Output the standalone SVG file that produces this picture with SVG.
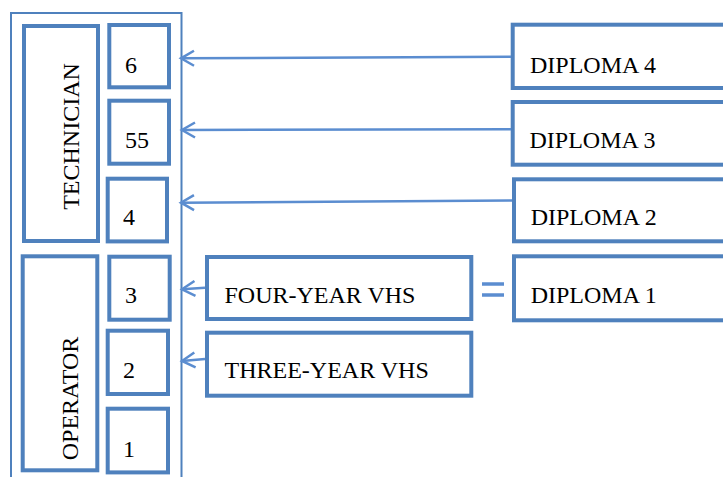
<svg xmlns="http://www.w3.org/2000/svg" width="723" height="477" viewBox="0 0 723 477">
<defs>
<style>
.box{fill:#fff;stroke:#4F81BD;stroke-width:4}
.frame{fill:none;stroke:#4F81BD;stroke-width:2}
.t{font-family:"Liberation Serif","Times New Roman",serif;font-size:24px;fill:#000}
.conn{fill:none;stroke:#5B8DD0;stroke-width:2.5}
.eq{stroke:#5B8DD0;stroke-width:3.5}
</style>
<marker id="ah" markerUnits="userSpaceOnUse" markerWidth="20" markerHeight="20" viewBox="-14 -10 20 20" refX="0" refY="0" orient="auto">
<path d="M-13,-7.5 L0,0 L-13,7.5" fill="none" stroke="#5B8DD0" stroke-width="2.5"/>
</marker>
</defs>
<rect width="723" height="477" fill="#fff"/>
<g id="frame"><path class="frame" d="M11,477 V13 H181.5 V477"/></g>
<g id="technician"><rect class="box" x="24" y="26" width="74" height="215"/><text class="t" transform="translate(79,136.5) rotate(-90)" text-anchor="middle">TECHNICIAN</text></g>
<g id="operator"><rect class="box" x="22.7" y="256.3" width="74.6" height="214"/><text class="t" transform="translate(78,398.5) rotate(-90)" text-anchor="middle">OPERATOR</text></g>
<g id="level6"><rect class="box" x="109.3" y="25" width="59.7" height="62.3"/><text class="t" x="125" y="73">6</text></g>
<g id="level55"><rect class="box" x="109.3" y="100.7" width="59.7" height="63"/><text class="t" x="125" y="148">55</text></g>
<g id="level4"><rect class="box" x="107.7" y="178.7" width="59.3" height="62.7"/><text class="t" x="123" y="225">4</text></g>
<g id="level3"><rect class="box" x="109.3" y="256.7" width="60.4" height="63"/><text class="t" x="125" y="303">3</text></g>
<g id="level2"><rect class="box" x="107.7" y="330.7" width="60.3" height="63.3"/><text class="t" x="123" y="378">2</text></g>
<g id="level1"><rect class="box" x="107.7" y="408.7" width="60.3" height="63.7"/><text class="t" x="123" y="457">1</text></g>
<g id="four-year"><rect class="box" x="207" y="257" width="264.3" height="62"/><text class="t" x="224.5" y="302.7">FOUR-YEAR VHS</text></g>
<g id="three-year"><rect class="box" x="207" y="332.7" width="264.3" height="63"/><text class="t" x="224.5" y="378">THREE-YEAR VHS</text></g>
<g id="diploma4"><rect class="box" x="512.7" y="24.7" width="230" height="63.3"/><text class="t" x="530" y="72.7">DIPLOMA 4</text></g>
<g id="diploma3"><rect class="box" x="512.7" y="102" width="230" height="62.7"/><text class="t" x="529.5" y="148">DIPLOMA 3</text></g>
<g id="diploma2"><rect class="box" x="514" y="179.3" width="230" height="62"/><text class="t" x="530.7" y="225">DIPLOMA 2</text></g>
<g id="diploma1"><rect class="box" x="514" y="256.3" width="230" height="64"/><text class="t" x="530.7" y="303.3">DIPLOMA 1</text></g>
<g id="equals"><line class="eq" x1="482" y1="284" x2="504" y2="284"/><line class="eq" x1="482" y1="295" x2="504" y2="295"/></g>
<g id="connectors">
<line class="conn" x1="511" y1="56.7" x2="181" y2="58.3" marker-end="url(#ah)"/>
<line class="conn" x1="511" y1="129.3" x2="182" y2="130" marker-end="url(#ah)"/>
<line class="conn" x1="512" y1="200.5" x2="181" y2="202.7" marker-end="url(#ah)"/>
<line class="conn" x1="205" y1="287.7" x2="182" y2="289.3" marker-end="url(#ah)"/>
<line class="conn" x1="205" y1="359" x2="182" y2="361" marker-end="url(#ah)"/>
</g>
</svg>
